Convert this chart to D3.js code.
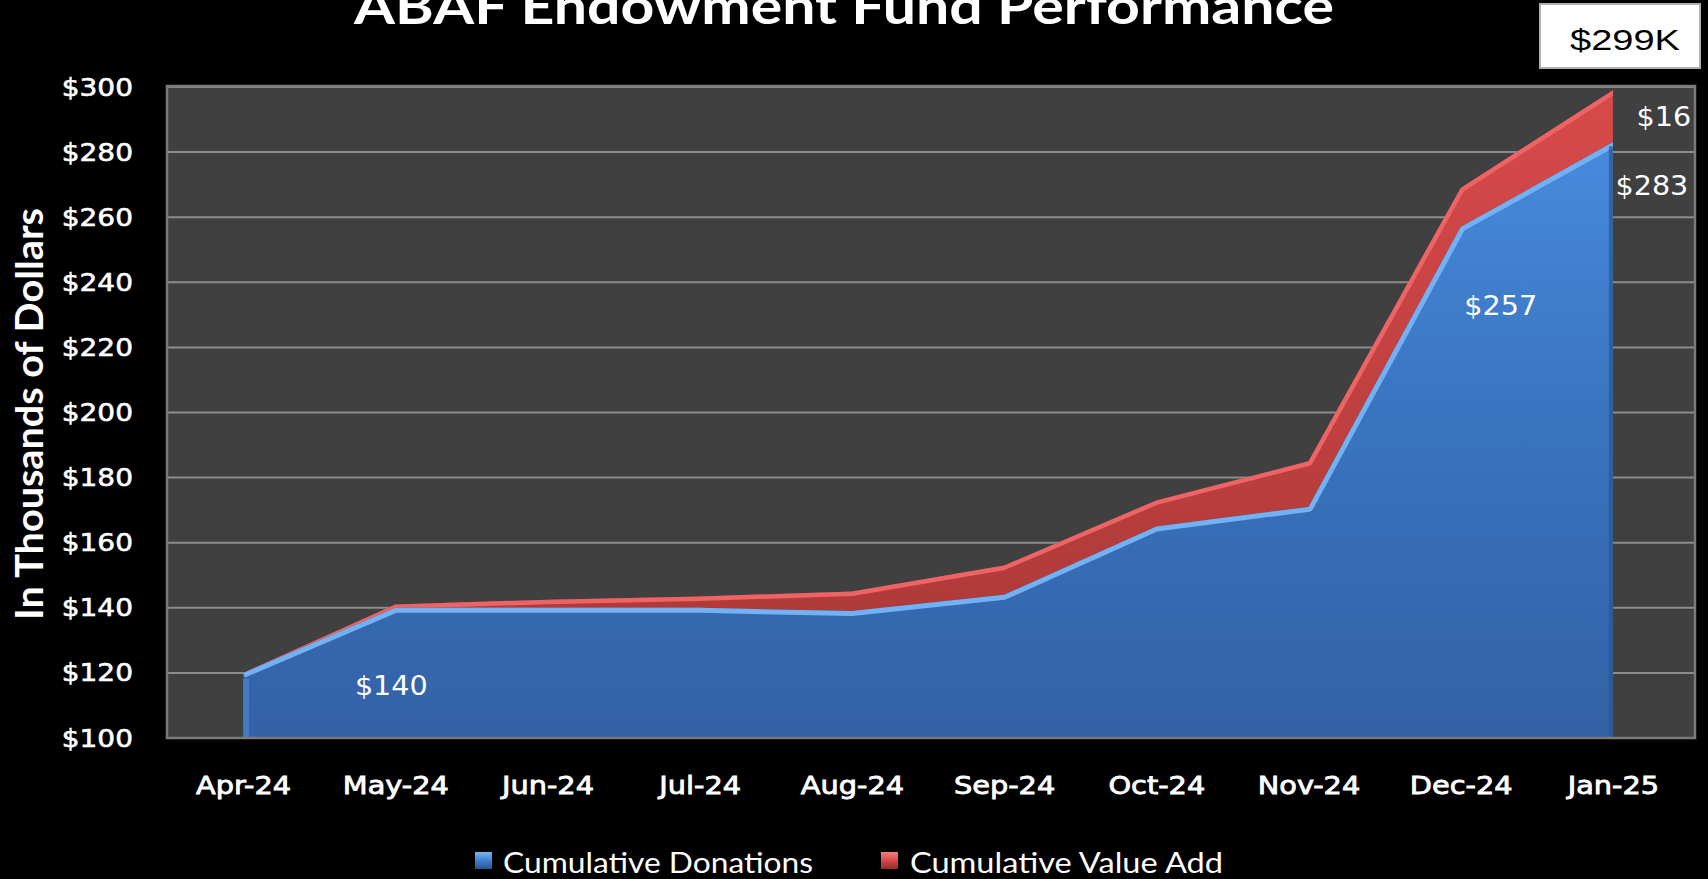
<!DOCTYPE html>
<html>
<head>
<meta charset="utf-8">
<title>ABAF Endowment Fund Performance</title>
<!-- Load in the d3 library -->
<script src="https://cdn.jsdelivr.net/npm/d3@7"></script>
<style>
body { margin: 0; background: #000; overflow: hidden; }
</style>
</head>
<body>
<svg></svg>
<script>

// data (thousands of dollars)
var months = ["Apr-24", "May-24", "Jun-24", "Jul-24", "Aug-24", "Sep-24", "Oct-24", "Nov-24", "Dec-24", "Jan-25"];
var donations = [120, 140, 140, 140, 139, 144, 165, 171, 257, 283];
var valueAdd = [0, 1, 2.5, 3.5, 6, 9, 8, 14, 12, 16];
var yTicks = [100, 120, 140, 160, 180, 200, 220, 240, 260, 280, 300];
var seriesNames = ["Cumulative Donations", "Cumulative Value Add"];
var totalLabel = "$299K";

var width = 1708, height = 879;

var svg = d3.select('svg')
	.attr("width", width)
	.attr("height", height)
	.style("background", "#000");

var plotLeft = 167, plotRight = 1695;

var x = d3.scalePoint()
	.domain(months)
	.range([167, 1689])
	.padding(0.5);

var y = d3.scaleLinear()
	.domain([100, 300])
	.range([738, 87]);

var rows = months.map(function(m, i) {
	return { month: m, donations: donations[i], total: donations[i] + valueAdd[i] };
});

// gradients
var defs = svg.append("defs");
function vgrad(id, stops, y1, y2) {
	var g = defs.append("linearGradient").attr("id", id)
		.attr("gradientUnits", "userSpaceOnUse")
		.attr("x1", 0).attr("x2", 0).attr("y1", y1).attr("y2", y2);
	stops.forEach(function(s) {
		g.append("stop").attr("offset", s[0]).attr("stop-color", s[1]);
	});
}
vgrad("blueFill", [[0, "#4a8fe2"], [0.5, "#3a74c0"], [1, "#3361a6"]], y(300), y(100));
vgrad("redFill", [[0, "#d84a4a"], [1, "#b03a3a"]], y(300), y(140));
defs.append("linearGradient").attr("id", "blueKey").attr("x1", 0).attr("x2", 0).attr("y1", 0).attr("y2", 1)
	.selectAll("stop").data([[0, "#7ab4f0"], [0.5, "#3f7fd0"], [1, "#2a5590"]]).enter().append("stop")
	.attr("offset", function(d) { return d[0]; }).attr("stop-color", function(d) { return d[1]; });
defs.append("linearGradient").attr("id", "redKey").attr("x1", 0).attr("x2", 0).attr("y1", 0).attr("y2", 1)
	.selectAll("stop").data([[0, "#f08080"], [0.5, "#d84848"], [1, "#902c2c"]]).enter().append("stop")
	.attr("offset", function(d) { return d[0]; }).attr("stop-color", function(d) { return d[1]; });

// plot background
svg.append("rect")
	.attr("x", plotLeft).attr("y", y(300) - 1)
	.attr("width", plotRight - plotLeft).attr("height", y(100) - y(300) + 1)
	.attr("fill", "#404040");

// gridlines
svg.selectAll(".grid")
	.data(yTicks.slice(1))
	.enter().append("line")
	.attr("class", "grid")
	.attr("x1", plotLeft).attr("x2", plotRight)
	.attr("y1", function(d) { return y(d); }).attr("y2", function(d) { return y(d); })
	.attr("stroke", "#8c8c8c").attr("stroke-width", 2);

// areas
var blueArea = d3.area()
	.x(function(d) { return x(d.month); })
	.y0(y(100))
	.y1(function(d) { return y(d.donations); });

var redArea = d3.area()
	.x(function(d) { return x(d.month); })
	.y0(function(d) { return y(d.donations); })
	.y1(function(d) { return y(d.total); });

var blueTop = d3.line()
	.x(function(d) { return x(d.month); })
	.y(function(d) { return y(d.donations); });

var redTop = d3.line()
	.x(function(d) { return x(d.month); })
	.y(function(d) { return y(d.total); });

defs.append("clipPath").attr("id", "clipBlue").append("path").attr("d", blueArea(rows));
defs.append("clipPath").attr("id", "clipRed").append("path").attr("d", redArea(rows));

svg.append("path")
	.attr("d", redArea(rows))
	.attr("fill", "url(#redFill)");
svg.append("path")
	.attr("d", redTop(rows))
	.attr("clip-path", "url(#clipRed)")
	.attr("style", "fill:none; stroke: #ee6464; stroke-width: 9; stroke-linejoin: round");

svg.append("path")
	.attr("d", blueArea(rows))
	.attr("fill", "url(#blueFill)");
svg.append("path")
	.attr("d", blueTop(rows))
	.attr("clip-path", "url(#clipBlue)")
	.attr("style", "fill:none; stroke: #72b2f4; stroke-width: 10; stroke-linejoin: round");
// darker side edges of the 3d area
svg.append("line")
	.attr("x1", x("Jan-25") - 2).attr("x2", x("Jan-25") - 2)
	.attr("y1", y(283) + 4).attr("y2", y(100))
	.attr("stroke", "#2c5690").attr("stroke-width", 4).attr("opacity", 0.7);
svg.append("line")
	.attr("x1", x("Apr-24") + 3).attr("x2", x("Apr-24") + 3)
	.attr("y1", y(120) + 6).attr("y2", y(100))
	.attr("stroke", "#4a8ad8").attr("stroke-width", 6).attr("opacity", 0.6);

// plot frame
svg.append("path")
	.attr("d", "M" + plotLeft + "," + (y(300) - 1) + "V" + y(100) + "H" + plotRight + "V" + (y(300) - 1) + "Z")
	.attr("fill", "none").attr("stroke", "#7a7a7a").attr("stroke-width", 2.5);

// y axis
var yAxis = svg.append("g")
	.attr("transform", "translate(133,0)")
	.call(d3.axisLeft(y).tickValues(yTicks).tickSize(0).tickPadding(0).tickFormat(function(d) { return "$" + d; }));
yAxis.select(".domain").remove();
yAxis.selectAll("text")
	.attr("fill", "#fff")
	.attr("stroke", "#fff").attr("stroke-width", 0.6)
	.attr("font-family", "DejaVu Sans")
	.attr("font-size", 25)
	.attr("transform", "scale(1.12,1)");

// x axis
var xAxis = svg.append("g")
	.attr("transform", "translate(0," + y(100) + ")")
	.call(d3.axisBottom(x).tickSize(0).tickPadding(39));
xAxis.select(".domain").remove();
xAxis.selectAll("text")
	.attr("fill", "#fff")
	.attr("stroke", "#fff").attr("stroke-width", 0.8)
	.attr("font-family", "DejaVu Sans")
	.attr("font-size", 24)
	.attr("transform", "scale(1.2,1)");

// data labels
function dataLabel(txt, cx, by, k) {
	svg.append("text")
		.attr("transform", "translate(" + cx + "," + by + ") scale(" + k + ",1)")
		.attr("text-anchor", "middle")
		.attr("fill", "#fff")
		.attr("font-family", "DejaVu Sans")
		.attr("font-size", 26)
		.text(txt);
}
dataLabel("$" + donations[1], x("May-24") - 4, y(donations[1]) + 87, 1.1);
dataLabel("$" + donations[8], x("Dec-24") + 40, y(donations[8]) + 88, 1.1);
dataLabel("$" + donations[9], x("Jan-25") + 39, y(donations[9]) + 53, 1.1);
dataLabel("$" + valueAdd[9], x("Jan-25") + 51, y(donations[9] + valueAdd[9]) + 36, 1.1);

// title (cut off at the top of the picture)
svg.append("text")
	.attr("x", 844).attr("y", 24)
	.attr("text-anchor", "middle")
	.attr("fill", "#fff")
	.attr("font-family", "Lato")
	.attr("font-weight", "bold")
	.attr("font-size", 50)
	.attr("textLength", 980)
	.attr("lengthAdjust", "spacingAndGlyphs")
	.text("ABAF Endowment Fund Performance");

// y axis title
svg.append("text")
	.attr("transform", "translate(43,414) rotate(-90)")
	.attr("text-anchor", "middle")
	.attr("fill", "#fff")
	.attr("font-family", "Lato")
	.attr("font-weight", "bold")
	.attr("font-size", 38)
	.attr("textLength", 412)
	.attr("lengthAdjust", "spacingAndGlyphs")
	.text("In Thousands of Dollars");

// legend
var legend = [
	{ name: seriesNames[0], key: "url(#blueKey)", mx: 475, tx: 503, len: 310 },
	{ name: seriesNames[1], key: "url(#redKey)", mx: 881, tx: 910, len: 313 }
];
var lg = svg.selectAll(".legend").data(legend).enter().append("g").attr("class", "legend");
lg.append("rect")
	.attr("x", function(d) { return d.mx; }).attr("y", 852)
	.attr("width", 17).attr("height", 17)
	.attr("fill", function(d) { return d.key; });
lg.append("text")
	.attr("x", function(d) { return d.tx; }).attr("y", 873)
	.attr("fill", "#fff")
	.attr("font-family", "Lato")
	.attr("font-size", 29)
	.attr("textLength", function(d) { return d.len; })
	.attr("lengthAdjust", "spacingAndGlyphs")
	.text(function(d) { return d.name; });

// total box
svg.append("rect")
	.attr("x", 1540).attr("y", 4).attr("width", 160).attr("height", 64)
	.attr("fill", "#fff").attr("stroke", "#b0b0b0").attr("stroke-width", 2);
svg.append("text")
	.attr("x", 1625).attr("y", 50)
	.attr("text-anchor", "middle")
	.attr("fill", "#000")
	.attr("font-family", "Liberation Sans")
	.attr("font-size", 30)
	.attr("textLength", 110)
	.attr("lengthAdjust", "spacingAndGlyphs")
	.text(totalLabel);

</script>
</body>
</html>
